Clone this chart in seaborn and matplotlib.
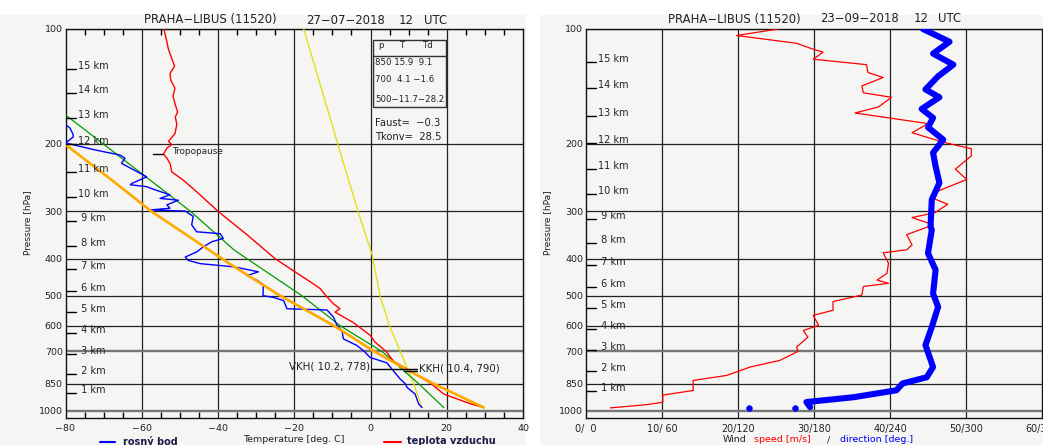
import matplotlib
matplotlib.use('Agg')
import matplotlib.pyplot as plt
import matplotlib.transforms as mtransforms
from matplotlib.patches import Rectangle
from matplotlib.lines import Line2D
from matplotlib.ticker import FixedLocator, MultipleLocator, NullLocator
import pandas as pd
import seaborn as sns

# ---------------- left panel: PRAHA-LIBUS 27-07-2018 12 UTC ----------------
# air temperature (teplota vzduchu)
temp_p = [982, 960, 905, 850, 787, 742, 700, 662, 635, 588, 552, 541, 525, 500,
          479, 460, 433, 400, 346, 301, 267, 249, 237, 225, 218, 213, 205, 201,
          197, 188, 178, 170, 165, 158, 150, 143, 136, 131, 125, 119, 113, 107,
          101, 100]
temp_t = [29.7, 26.2, 19.2, 15.9, 10.4, 6.0, 4.1, 1.2, -0.1, -4.5, -9.3, -8.0,
          -9.7, -11.7, -13.2, -15.8, -19.8, -25.0, -32.4, -39.9, -45.6, -49.1,
          -52.1, -52.6, -53.4, -54.3, -53.4, -52.1, -53.0, -51.3, -50.8, -51.2,
          -50.6, -51.2, -51.8, -51.3, -52.4, -52.6, -51.4, -52.2, -53.0, -53.5,
          -54.1, -54.2]

# dew point (rosny bod)
dew_p = [982, 960, 905, 870, 850, 827, 787, 750, 726, 700, 675, 649, 617, 598,
         569, 545, 541, 515, 505, 500, 468, 455, 443, 433, 424, 420, 412, 404,
         396, 384, 372, 361, 354, 344, 340, 326, 310, 300, 298, 295, 289, 281,
         278, 272, 264, 259, 256, 254, 244, 239, 225, 218, 214, 207, 201, 199,
         192, 189, 182, 178]
dew_t = [13.5, 12.6, 11.7, 9.6, 9.1, 7.8, 6.0, 4.3, -0.1, -1.6, -3.6, -7.1,
         -7.5, -8.8, -9.7, -11.4, -21.9, -22.8, -25.5, -28.2, -28.1, -29.8,
         -32.4, -29.4, -33.8, -36.0, -44.7, -47.8, -48.6, -45.6, -43.8, -41.6,
         -38.6, -39.4, -45.6, -46.9, -46.5, -48.6, -57.8, -52.6, -53.4, -50.4,
         -55.2, -52.6, -56.5, -58.7, -63.0, -62.6, -58.7, -60.4, -65.3, -64.4,
         -65.7, -72.7, -78.0, -80.0, -78.0, -78.0, -78.8, -80.0]

# orange parcel curve
parcel_p = [982, 850, 790, 700, 600, 500, 414, 300, 250, 202]
parcel_t = [29.7, 16.5, 10.4, 1.0, -9.5, -23.7, -36.7, -57.6, -67.6, -79.7]

# green line
green_p = [982, 850, 700, 600, 500, 380, 300, 178, 168]
green_t = [19.2, 12.6, 3.0, -7.9, -18.0, -35.7, -47.3, -76.7, -80.0]

# yellow line
mix_p = [982, 850, 700, 600, 500, 390, 300, 200, 100]
mix_t = [13.5, 11.3, 7.8, 5.0, 2.5, 0.4, -3.3, -8.6, -17.5]

km_labels = [15, 14, 13, 12, 11, 10, 9, 8, 7, 6, 5, 4, 3, 2, 1]
km_left_p = [127, 147, 171, 200, 237, 275, 318, 370, 425, 486, 552, 627, 710, 804, 901]
km_right_p = [122, 143, 169, 199, 233, 270, 314, 363, 415, 474, 540, 613, 695, 788, 890]

table_p = [850, 700, 500]
table_t = [15.9, 4.1, -11.7]
table_td = [9.1, -1.6, -28.2]
faust = -0.3
tkonv = 28.5
vkh_t, vkh_p = 10.2, 778
kkh_t, kkh_p = 10.4, 790
tropo_p = 212

# ---------------- right panel: PRAHA-LIBUS 23-09-2018 12 UTC ----------------
speed_p = [100, 104, 109, 113, 115, 120, 124, 130, 134, 141, 147, 151, 160, 166,
           177, 187, 198, 206, 215, 233, 248, 266, 277, 288, 303, 312, 326, 346,
           368, 379, 386, 411, 437, 455, 464, 473, 498, 518, 546, 563, 598, 617,
           642, 682, 700, 739, 769, 809, 834, 886, 911, 951, 965, 984]
speed = [25.3, 19.8, 27.7, 29.9, 31.2, 29.9, 36.9, 37.1, 39.1, 36.3, 36.5, 40.2,
         38.5, 35.4, 45.0, 42.9, 47.0, 50.7, 50.7, 48.6, 50.1, 46.3, 45.5, 47.6,
         45.9, 42.9, 45.7, 42.2, 42.9, 42.2, 39.1, 39.8, 39.6, 38.3, 39.8, 36.5,
         36.3, 32.5, 32.5, 29.9, 30.6, 28.6, 29.2, 27.7, 27.9, 25.5, 21.6, 18.5,
         14.1, 14.1, 10.1, 10.1, 8.0, 3.2]

dir_p = [100, 108, 116, 124, 133, 144, 151, 162, 171, 181, 195, 211, 229, 253,
         280, 329, 336, 387, 428, 494, 535, 604, 674, 769, 818, 849, 885, 923,
         950, 980]
direction = [266, 287, 274, 290, 278, 268, 279, 265, 274, 270, 282, 274, 276,
             279, 273, 272, 273, 270, 276, 274, 278, 273, 268, 274, 269, 250,
             245, 211, 174, 177]
dot_p = [983, 983]
dot_dir = [129, 165]

p_levels = [100, 200, 300, 400, 500, 600, 700, 850, 1000]
t_ticks = [-80, -60, -40, -20, 0, 20, 40]
wind_ticks = [0, 10, 20, 30, 40, 50, 60]

# ---------------------------------------------------------------------------
W, H = 1043, 445
BG = '#f5f5f3'
BLUE = '#0000ff'
RED = '#ff0000'

sns.set_theme(style='white')
plt.rcParams['font.family'] = ['DejaVu Sans']
plt.rcParams['axes.unicode_minus'] = True

fig = plt.figure(figsize=(W / 100, H / 100), dpi=100)
fig.patch.set_facecolor('white')
fig.patches.append(Rectangle((0, 0), 525 / W, 430 / H, transform=fig.transFigure,
                             color=BG, zorder=-10))
fig.patches.append(Rectangle((540 / W, 0), 503 / W, 430 / H, transform=fig.transFigure,
                             color=BG, zorder=-10))


def fx(x):
    return x / W


def fy(y):
    return 1 - y / H


def mm(s):
    return s.replace('-', '\u2212')


ax1 = fig.add_axes([fx(65.5), fy(418), (523 - 65.5) / W, 389 / H])
ax2 = fig.add_axes([fx(586), fy(418), 456 / W, 389 / H])


def setup_pressure_axis(ax, km_p):
    ax.set_facecolor(BG)
    ax.set_yscale('log')
    ax.set_ylim(1046, 100)
    ax.yaxis.set_major_locator(FixedLocator(p_levels))
    ax.yaxis.set_minor_locator(NullLocator())
    ax.set_yticklabels([str(p) for p in p_levels])
    ax.tick_params(axis='y', length=0, pad=2, labelsize=6.8, colors='#222222')
    ax.set_ylabel('')
    ax.set_xlabel('')
    for p in p_levels:
        if p in (700, 1000):
            ax.axhline(p, color='#777777', lw=1.7, zorder=1)
        else:
            ax.axhline(p, color='#222222', lw=0.9, zorder=1)
    for s in ax.spines.values():
        s.set_color('#111111')
        s.set_linewidth(1.0)
    # altitude marks
    trans = mtransforms.blended_transform_factory(ax.transAxes, ax.transData)
    for km, p in zip(km_labels, km_p):
        ax.plot([0, 0.022], [p, p], color='black', lw=1, transform=trans,
                clip_on=False, zorder=5)
        lab = f'{km} km' if km >= 10 else f' {km} km'
        ax.annotate(lab, xy=(0.022, p), xycoords=trans, xytext=(2, 3),
                    textcoords='offset pixels', fontsize=7, va='center',
                    ha='left', color='#222222', zorder=5)


# ---------------- left panel ----------------
sns.lineplot(x=mix_t, y=mix_p, sort=False, estimator=None, ax=ax1,
             color='#e0e000', lw=0.9, zorder=3)
sns.lineplot(x=green_t, y=green_p, sort=False, estimator=None, ax=ax1,
             color='#009a00', lw=0.9, zorder=3)
sns.lineplot(x=temp_t, y=temp_p, sort=False, estimator=None, ax=ax1,
             color=RED, lw=1.0, zorder=4)
sns.lineplot(x=dew_t, y=dew_p, sort=False, estimator=None, ax=ax1,
             color=BLUE, lw=1.0, zorder=4)
sns.lineplot(x=parcel_t, y=parcel_p, sort=False, estimator=None, ax=ax1,
             color='#ffa800', lw=1.9, zorder=4)

ax1.set_xlim(-80, 40)
ax1.xaxis.set_major_locator(FixedLocator(t_ticks))
ax1.set_xticklabels([mm(str(t)) for t in t_ticks])
ax1.xaxis.set_minor_locator(MultipleLocator(5))
ax1.tick_params(axis='x', which='major', length=0, pad=4, labelsize=6.8,
                colors='#222222')
ax1.tick_params(axis='x', which='minor', direction='in', length=4.5, width=1,
                top=True, bottom=True, color='black')
for t in t_ticks[1:-1]:
    ax1.axvline(t, color='#222222', lw=0.9, zorder=1)
setup_pressure_axis(ax1, km_left_p)

# tropopause mark
ax1.plot([-57, -54.3], [tropo_p, tropo_p], color='black', lw=1, zorder=6)
ax1.text(-52.0, tropo_p - 2, 'Tropopause', fontsize=6.4, va='center',
         ha='left', color='#222222', zorder=6)

# condensation levels
ax1.plot([0.1, 12.3], [vkh_p, vkh_p], color='black', lw=1, zorder=6)
ax1.plot([8.7, 12.3], [kkh_p, kkh_p], color='black', lw=1, zorder=6)
ax1.text(-0.2, vkh_p - 10, f'VKH( {vkh_t}, {vkh_p})', fontsize=7.4,
         ha='right', va='center', color='#222222', zorder=6)
ax1.text(12.6, vkh_p, f'KKH( {kkh_t}, {kkh_p})', fontsize=7.4,
         ha='left', va='center', color='#222222', zorder=6)

# stats table
fig.patches.append(Rectangle((fx(373), fy(106.7)), 73 / W, 66.7 / H,
                             transform=fig.transFigure, fill=False,
                             edgecolor='#333333', lw=1, zorder=10))
fig.add_artist(Line2D([fx(373), fx(446)], [fy(55.7), fy(55.7)],
                      color='#333333', lw=1))
for txt, x in zip(['p', 'T', 'Td'], [381, 403, 428]):
    fig.text(fx(x), fy(46), txt, fontsize=6.2, ha='center', va='center',
             color='#222222')
for p, t, td, y in zip(table_p, table_t, table_td, [62.7, 80, 99.3]):
    fig.text(fx(375), fy(y), mm(f'{p}{t:5.1f}{td:5.1f}'), fontsize=6.2,
             ha='left', va='center', color='#222222')
fig.text(fx(375), fy(122.7), mm(f'Faust= {faust:5.1f}'), fontsize=7.2,
         ha='left', va='center', color='#222222')
fig.text(fx(375), fy(136.7), mm(f'Tkonv= {tkonv:5.1f}'), fontsize=7.2,
         ha='left', va='center', color='#222222')

# ---------------- right panel ----------------
wind_df = pd.DataFrame({'p': speed_p, 'speed': speed})
dir_df = pd.DataFrame({'p': dir_p, 'x': [d / 6 for d in direction]})
sns.lineplot(data=wind_df, x='speed', y='p', sort=False, estimator=None,
             ax=ax2, color=RED, lw=0.9, zorder=4)
sns.lineplot(data=dir_df, x='x', y='p', sort=False, estimator=None, ax=ax2,
             color=BLUE, lw=4.4, zorder=5, solid_capstyle='round')
sns.scatterplot(x=[d / 6 for d in dot_dir], y=dot_p, ax=ax2, color=BLUE,
                s=18, edgecolor=BLUE, zorder=5)

ax2.set_xlim(0, 60)
ax2.xaxis.set_major_locator(FixedLocator(wind_ticks))
ax2.set_xticklabels([f'{s}/{s * 6:3d}' for s in wind_ticks])
ax2.tick_params(axis='x', length=0, pad=4, labelsize=6.9, colors='#222222')
for s in wind_ticks[1:-1]:
    ax2.axvline(s, color='#222222', lw=0.9, zorder=1)
setup_pressure_axis(ax2, km_right_p)

# ---------------- titles and bottom captions ----------------
for x, s in zip([143.7, 306, 399, 424.4],
                ['PRAHA\u2212LIBUS (11520)', '27\u221207\u22122018', '12', 'UTC']):
    fig.text(fx(x), fy(20), s, fontsize=8.4, ha='left', va='center',
             color='#222222')
for x, s in zip([668.3, 820, 913.3, 938.3],
                ['PRAHA\u2212LIBUS (11520)', '23\u221209\u22122018', '12', 'UTC']):
    fig.text(fx(x), fy(19), s, fontsize=8.4, ha='left', va='center',
             color='#222222')

for x in [28, 548]:
    fig.text(fx(x), fy(223), 'Pressure [hPa]', fontsize=6.5, rotation=90,
             ha='center', va='center', color='#222222')

fig.add_artist(Line2D([fx(100), fx(115)], [fy(441.5), fy(441.5)], color=BLUE, lw=1.5))
fig.text(fx(123), fy(441.5), 'rosný bod', fontsize=7, fontweight='bold',
         ha='left', va='center', color='#1c1c48')
fig.text(fx(294), fy(440), 'Temperature [deg. C]', fontsize=6.8,
         ha='center', va='center', color='#222222')
fig.add_artist(Line2D([fx(384), fx(401)], [fy(441.5), fy(441.5)], color=RED, lw=1.5))
fig.text(fx(407), fy(441.5), 'teplota vzduchu', fontsize=7, fontweight='bold',
         ha='left', va='center', color='#1c1c48')

for x, s, c in zip([722.7, 754, 826.7, 840],
                   ['Wind', 'speed [m/s]', '/', 'direction [deg.]'],
                   ['#222222', RED, '#222222', BLUE]):
    fig.text(fx(x), fy(440), s, fontsize=6.8, ha='left', va='center', color=c)

fig.savefig('out.png', dpi=100, facecolor=fig.get_facecolor())
